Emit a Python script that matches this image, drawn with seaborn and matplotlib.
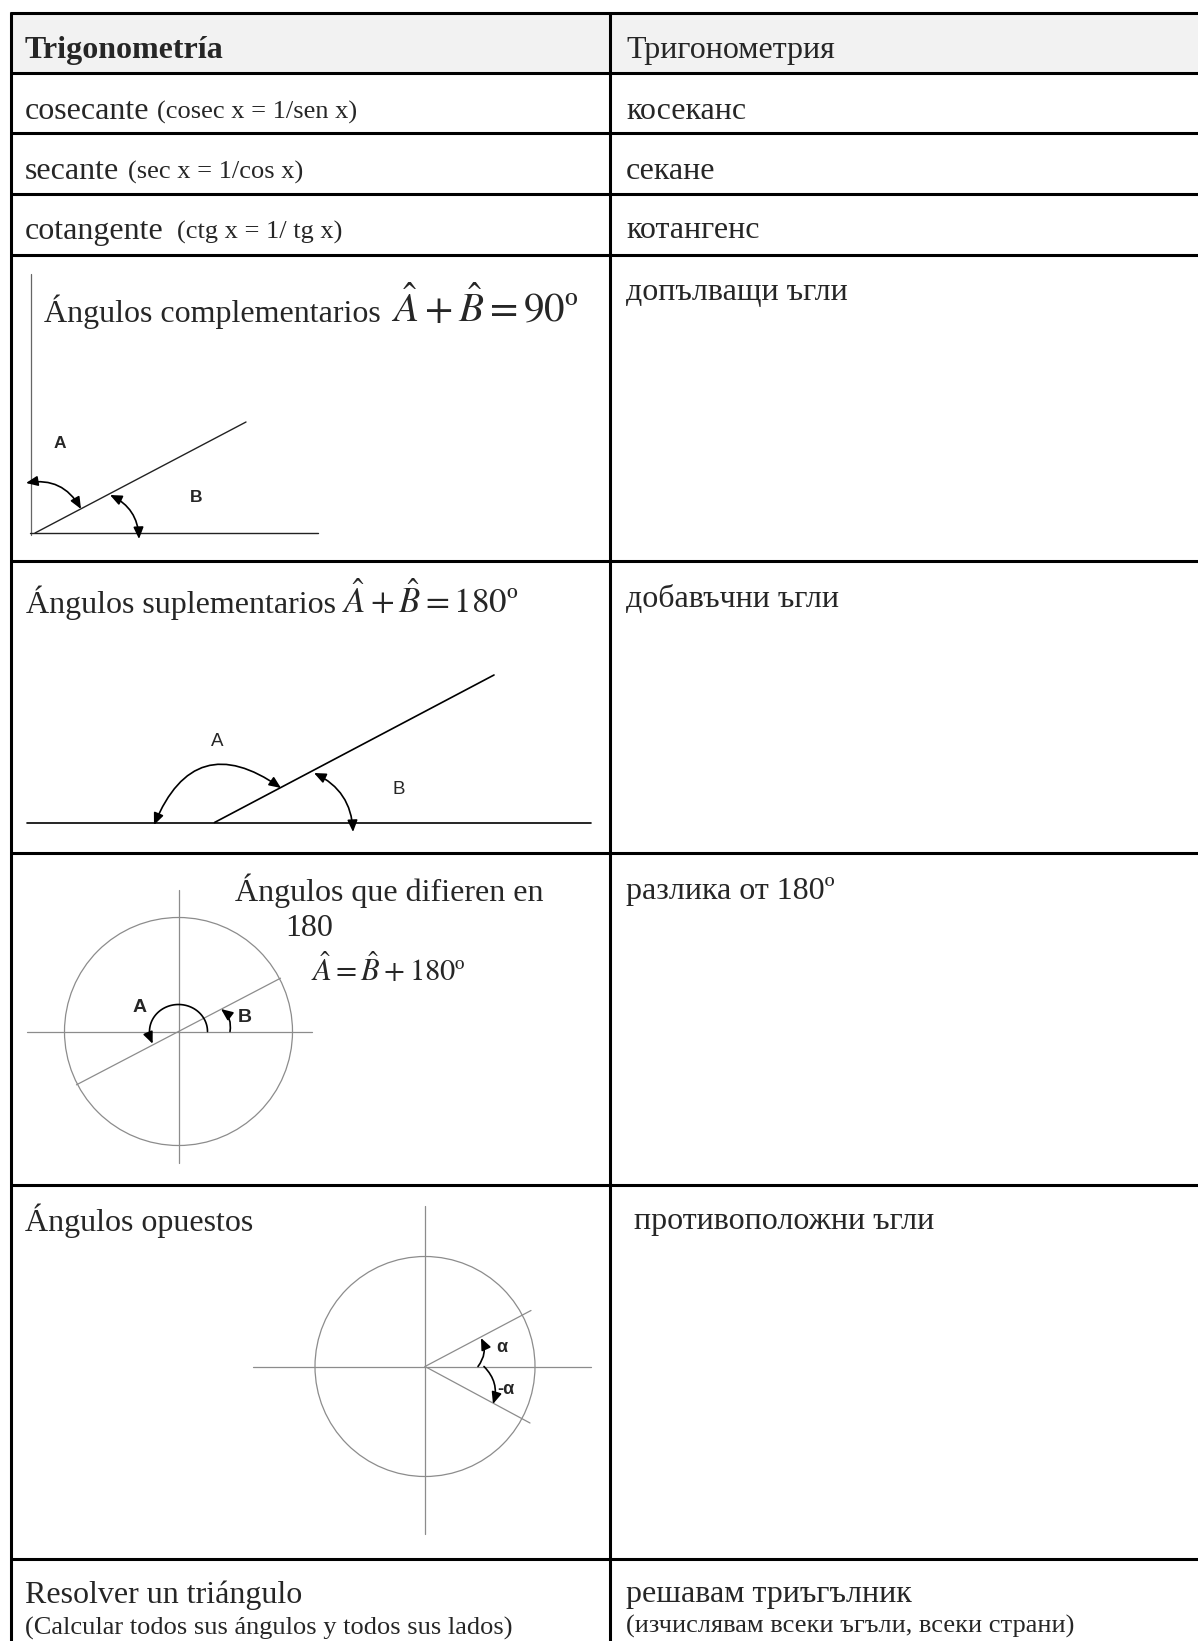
import numpy as np
import pandas as pd
import matplotlib
matplotlib.use('Agg')
import matplotlib.pyplot as plt
from matplotlib.patches import Circle, FancyArrowPatch, Rectangle
import seaborn as sns

# table content (Spanish column / Bulgarian column)
header_es = 'Trigonometría'
header_bg = 'Тригонометрия'

terms_es = ['cosecante', 'secante', 'cotangente']
terms_formula = ['(cosec x = 1/sen x)', '(sec x = 1/cos x)', '(ctg x = 1/ tg x)']
terms_bg = ['косеканс', 'секане', 'котангенс']

angle_titles = ['Ángulos complementarios', 'Ángulos suplementarios',
                'Ángulos que difieren en', 'Ángulos opuestos']
angle_formulas = [r'$\hat{A}+\hat{B}=90$º', r'$\hat{A}+\hat{B}=180$º',
                  r'$\hat{A}=\hat{B}+180$º']
angles_bg = ['допълващи ъгли', 'добавъчни ъгли', 'разлика от 180º',
             ' противоположни ъгли']

solve_es = ['Resolver un triángulo', '(Calcular todos sus ángulos y todos sus lados)']
solve_bg = ['решавам триъгълник', '(изчислявам всеки ъгъли, всеки страни)']

# page geometry in pixels (y downwards)
W, H = 1198, 1641
row_lines = [12.7, 73, 133, 193.5, 254.5, 561, 853, 1185, 1559]
left_x, mid_x = 11, 610

sns.set_theme(style='white')
plt.rcParams['font.family'] = ['Liberation Serif', 'DejaVu Serif']
plt.rcParams['mathtext.fontset'] = 'stix'

fig = plt.figure(figsize=(W / 100, H / 100), dpi=100)
ax = fig.add_axes([0, 0, 1, 1])


def segs(pts, color, lw):
    rows = []
    for i, (p, q) in enumerate(pts):
        rows.append({'x': p[0], 'y': p[1], 'seg': i})
        rows.append({'x': q[0], 'y': q[1], 'seg': i})
    df = pd.DataFrame(rows)
    sns.lineplot(data=df, x='x', y='y', units='seg', estimator=None, sort=False,
                 color=color, linewidth=lw, ax=ax, legend=False)


def arc_arrow(p0, p1, rad, style):
    a = FancyArrowPatch(p0, p1, connectionstyle='arc3,rad=%s' % rad,
                        arrowstyle=style + ',head_length=0.7,head_width=0.3',
                        mutation_scale=10, lw=1.2, color='black',
                        shrinkA=0, shrinkB=0, zorder=5)
    ax.add_patch(a)


# header background + grid
ax.add_patch(Rectangle((left_x, row_lines[0]), W - left_x, row_lines[1] - row_lines[0],
                       facecolor='#f2f2f2', edgecolor='none', zorder=0))
ax.hlines(row_lines, left_x - 1, W, color='black', lw=2.2, zorder=6)
ax.vlines([left_x, mid_x], row_lines[0] - 1, H, color='black', lw=2.2, zorder=6)

big = 23
small = 19
ax.text(25, 58, header_es, fontsize=big, fontweight='bold')
ax.text(626, 58, header_bg, fontsize=big)

base = [119, 179, 238.5]
fx = [157, 128, 177]
for i in range(3):
    ax.text(25, base[i], terms_es[i], fontsize=big)
    ax.text(fx[i], base[i], terms_formula[i], fontsize=small)
    ax.text(626, base[i], terms_bg[i], fontsize=big)

# complementarios
ax.text(44, 322, angle_titles[0], fontsize=big)
ax.text(391, 322, angle_formulas[0], fontsize=29.5)
ax.text(626, 300, angles_bg[0], fontsize=big)
segs([((31, 274), (31, 535))], '#666666', 0.9)
segs([((30, 533), (318, 533)), ((35, 533), (246, 422))], '#222222', 1.0)
arc_arrow((26, 483), (81, 509), -0.35, '<|-|>')
arc_arrow((110, 495), (139, 539), -0.3, '<|-|>')
ax.text(60, 443, 'A', fontsize=12.5, fontweight='bold', family='Liberation Sans',
        ha='center', va='center')
ax.text(196, 497, 'B', fontsize=12.5, fontweight='bold', family='Liberation Sans',
        ha='center', va='center')

# suplementarios
ax.text(26, 613, angle_titles[1], fontsize=big)
ax.text(342, 613, angle_formulas[1], fontsize=25)
ax.text(626, 607, angles_bg[1], fontsize=big)
segs([((27, 822.5), (591, 822.5)), ((214.5, 822.5), (494, 675))], 'black', 1.2)
arc_arrow((154, 825), (281, 788), -0.62, '<|-|>')
arc_arrow((314, 773), (353, 832), -0.3, '<|-|>')
ax.text(217, 741, 'A', fontsize=13.5, family='Liberation Sans', ha='center', va='center')
ax.text(399, 790, 'B', fontsize=13.5, family='Liberation Sans', ha='center', va='center')

# difieren en 180
cx, cy = 178.5, 1031.5
ax.text(235, 901, angle_titles[2], fontsize=big)
ax.text(285, 936, '180', fontsize=big)
ax.text(311, 981, angle_formulas[2], fontsize=22)
ax.text(626, 899, angles_bg[2], fontsize=big)
ax.add_patch(Circle((cx, cy), 114, fill=False, ec='#8c8c8c', lw=0.9))
segs([((27, cy), (312, cy)), ((cx, 890), (cx, 1163)),
      ((cx + 102, cy - 53.3), (cx - 102, cy + 53.3))], '#8c8c8c', 0.9)
t = np.radians(np.linspace(0, 200, 60))
ax.plot(cx + 29 * np.cos(t), cy - 27 * np.sin(t), color='black', lw=1.2)
ta, tb = np.radians(196), np.radians(207)
ax.annotate('', xy=(cx + 29 * np.cos(tb), cy - 27 * np.sin(tb)),
            xytext=(cx + 29 * np.cos(ta), cy - 27 * np.sin(ta)),
            arrowprops=dict(arrowstyle='-|>,head_length=0.7,head_width=0.3',
                            mutation_scale=10, color='black', lw=1.2,
                            shrinkA=0, shrinkB=0))
arc_arrow((230, cy), (221, 1009), 0.3, '-|>')
ax.text(140, 1008, 'A', fontsize=14, fontweight='bold', family='Liberation Sans',
        ha='center', va='center')
ax.text(245, 1017, 'B', fontsize=14, fontweight='bold', family='Liberation Sans',
        ha='center', va='center')

# opuestos
ox, oy = 425, 1366.5
ax.text(25, 1231, angle_titles[3], fontsize=big)
ax.text(626, 1229, angles_bg[3], fontsize=big)
ax.add_patch(Circle((ox, oy), 110, fill=False, ec='#8c8c8c', lw=0.9))
segs([((253, oy), (591, oy)), ((ox, 1206), (ox, 1534)),
      ((ox, oy), (531, 1310.5)), ((ox, oy), (530, 1423))], '#8c8c8c', 0.9)
arc_arrow((478, oy), (481, 1338), 0.3, '-|>')
arc_arrow((484, oy), (493, 1404), -0.3, '-|>')
ax.text(502, 1347, 'α', fontsize=13, fontweight='bold', family='Liberation Sans',
        ha='center', va='center')
ax.text(506, 1390, '-α', fontsize=13, fontweight='bold', family='Liberation Sans',
        ha='center', va='center')

# resolver un triángulo
ax.text(25, 1603, solve_es[0], fontsize=big)
ax.text(25, 1635, solve_es[1], fontsize=small)
ax.text(626, 1602, solve_bg[0], fontsize=big)
ax.text(626, 1633, solve_bg[1], fontsize=small)

ax.set_xlim(0, W)
ax.set_ylim(H, 0)
ax.axis('off')

fig.savefig('out.png', dpi=100)
